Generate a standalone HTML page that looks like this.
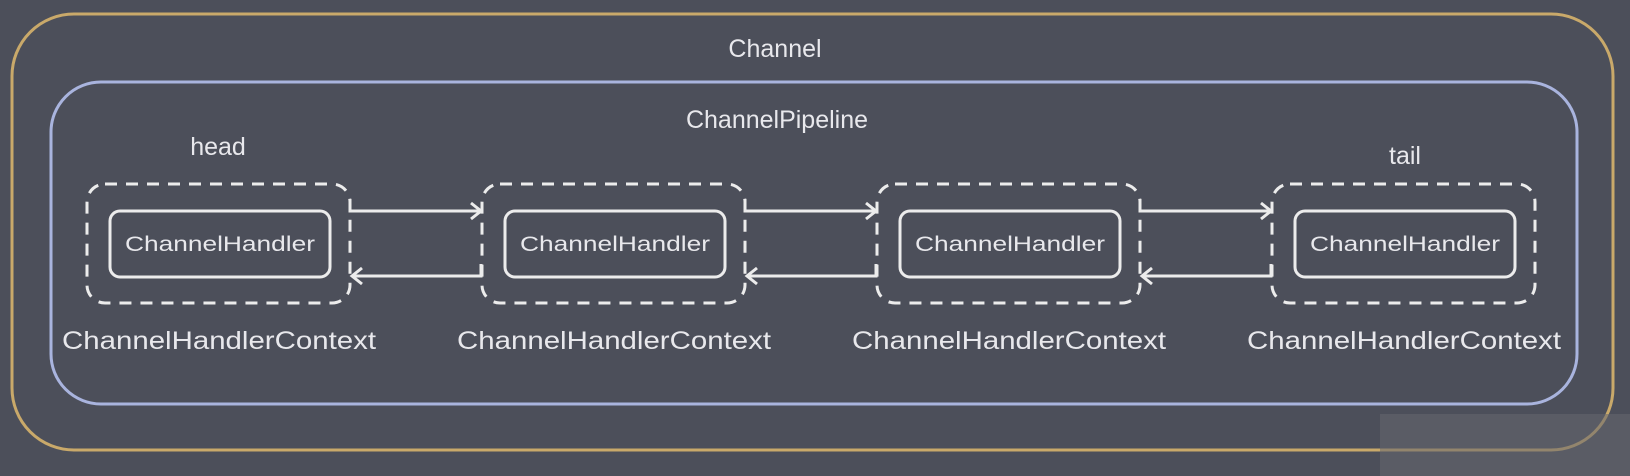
<!DOCTYPE html>
<html><head><meta charset="utf-8"><style>
html,body{margin:0;padding:0;background:#4c4f5a;}
svg{display:block;}
text{font-family:"Liberation Sans","DejaVu Sans",sans-serif;fill:#e8e8ec;}
</style></head><body>
<svg width="1630" height="476" viewBox="0 0 1630 476" xmlns="http://www.w3.org/2000/svg">
<rect width="1630" height="476" fill="#4c4f5a"/>
<rect x="12" y="14" width="1601" height="436" rx="62" fill="none" stroke="#c9a96a" stroke-width="3"/>
<rect x="51" y="82" width="1526" height="322" rx="50" fill="none" stroke="#a9b4de" stroke-width="3"/>
<text x="775" y="57" font-size="25" text-anchor="middle">Channel</text>
<text x="777" y="128" font-size="25" text-anchor="middle">ChannelPipeline</text>
<text x="218" y="155" font-size="25" text-anchor="middle">head</text>
<text x="1405" y="164" font-size="25" text-anchor="middle">tail</text>
<g fill="none" stroke="#ececec" stroke-width="3">
<rect x="87" y="184" width="263" height="119" rx="18" stroke-dasharray="12,9"/>
<rect x="482" y="184" width="263" height="119" rx="18" stroke-dasharray="12,9"/>
<rect x="877" y="184" width="263" height="119" rx="18" stroke-dasharray="12,9"/>
<rect x="1272" y="184" width="263" height="119" rx="18" stroke-dasharray="12,9"/>
<rect x="110" y="211" width="220" height="66" rx="10"/>
<rect x="505" y="211" width="220" height="66" rx="10"/>
<rect x="900" y="211" width="220" height="66" rx="10"/>
<rect x="1295" y="211" width="220" height="66" rx="10"/>
</g>
<g fill="none" stroke="#ececec" stroke-width="3">
<path d="M350 199 V211 H481 M471 203 L481 211 L471 219"/>
<path d="M481 264 V276 H352 M362 268 L352 276 L362 284"/>
<path d="M745 199 V211 H876 M866 203 L876 211 L866 219"/>
<path d="M876 264 V276 H747 M757 268 L747 276 L757 284"/>
<path d="M1140 199 V211 H1271 M1261 203 L1271 211 L1261 219"/>
<path d="M1271 264 V276 H1142 M1152 268 L1142 276 L1152 284"/>
</g>
<g font-size="21" text-anchor="middle">
<text x="220" y="251" textLength="190" lengthAdjust="spacingAndGlyphs">ChannelHandler</text>
<text x="615" y="251" textLength="190" lengthAdjust="spacingAndGlyphs">ChannelHandler</text>
<text x="1010" y="251" textLength="190" lengthAdjust="spacingAndGlyphs">ChannelHandler</text>
<text x="1405" y="251" textLength="190" lengthAdjust="spacingAndGlyphs">ChannelHandler</text>
</g>
<g font-size="25" text-anchor="middle">
<text x="219" y="349" textLength="314" lengthAdjust="spacingAndGlyphs">ChannelHandlerContext</text>
<text x="614" y="349" textLength="314" lengthAdjust="spacingAndGlyphs">ChannelHandlerContext</text>
<text x="1009" y="349" textLength="314" lengthAdjust="spacingAndGlyphs">ChannelHandlerContext</text>
<text x="1404" y="349" textLength="314" lengthAdjust="spacingAndGlyphs">ChannelHandlerContext</text>
</g>
<rect x="1380" y="414" width="250" height="62" fill="#666870" opacity="0.55"/>
</svg>
</body></html>
